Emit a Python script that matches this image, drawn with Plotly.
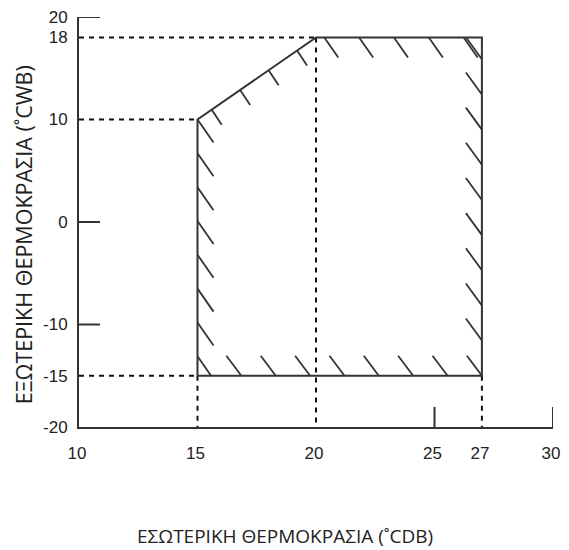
import numpy as np
import plotly.graph_objects as go

# operating envelope: indoor dry bulb (°CDB) vs outdoor wet bulb (°CWB)
indoor_db = [15, 15, 20, 27, 27, 15]
outdoor_wb = [-15, 10, 18, 18, -15, -15]

x_ticks = [10, 15, 20, 25, 27, 30]
y_ticks = [20, 18, 10, 0, -10, -15, -20]
y_tick_text = ["20", "18", "10", "0", "-10", "-15", "-20"]
x_marks = [25, 30]          # solid tick marks on the x axis
y_marks = [20, 0, -10]      # solid tick marks on the y axis

# corners that get a dashed guide to each axis
guide_to_y = [(15, 10), (20, 18), (15, -15)]
guide_to_x = [(15, -15), (20, 18), (27, -15)]

X_RANGE = [10, 30]
Y_RANGE = [-20, 20]

# page body adds an 8px margin, so keep the figure inside the window
W, H = 561, 542
M = dict(l=71, r=16, t=9, b=123)
SX = (W - M["l"] - M["r"]) / (X_RANGE[1] - X_RANGE[0])   # px per degree
SY = (H - M["t"] - M["b"]) / (Y_RANGE[1] - Y_RANGE[0])

LINE = "#333333"
TICK_FONT = dict(family="Liberation Sans, Arial, sans-serif", size=17, color="#222222")
TITLE_FONT = dict(family="Open Sans, sans-serif", color="#222222")


def hatch(x0, y0, px, py, at_end=False):
    """One short hatch stroke; vector given in screen px (py downwards)."""
    dx, dy = px / SX, -py / SY
    if at_end:
        return [x0 - dx, x0, None], [y0 - dy, y0, None]
    t = 1.0
    t = min(t, (y0 - outdoor_wb[0]) / -dy)
    t = min(t, (indoor_db[3] - x0) / dx)
    return [x0, x0 + dx * t, None], [y0, y0 + dy * t, None]


hx, hy = [], []
# left edge
for y in np.arange(outdoor_wb[1], outdoor_wb[0], -3.3):
    a, b = hatch(indoor_db[1], y, 16, 23)
    hx += a; hy += b
# sloped edge
for t in np.arange(0.12, 1, 0.24):
    x = indoor_db[1] + (indoor_db[2] - indoor_db[1]) * t
    y = outdoor_wb[1] + (outdoor_wb[2] - outdoor_wb[1]) * t
    a, b = hatch(x, y, 10, 15)
    hx += a; hy += b
# top edge
for x in np.arange(indoor_db[2] + 0.35, indoor_db[3], 1.47):
    a, b = hatch(x, outdoor_wb[2], 14, 20)
    hx += a; hy += b
# right edge
for y in np.arange(outdoor_wb[4] + 3.43, outdoor_wb[3] - 2, 3.43):
    a, b = hatch(indoor_db[4], y, 16, 22, at_end=True)
    hx += a; hy += b
# bottom edge
for x in np.arange(indoor_db[4], indoor_db[0] + 1.5, -1.45):
    a, b = hatch(x, outdoor_wb[4], 15, 20, at_end=True)
    hx += a; hy += b

fig = go.Figure()

# dashed guides
gx, gy = [], []
for x, y in guide_to_y:
    gx += [X_RANGE[0], x, None]; gy += [y, y, None]
for x, y in guide_to_x:
    gx += [x, x, None]; gy += [y, Y_RANGE[0], None]
fig.add_trace(go.Scatter(x=gx, y=gy, mode="lines", hoverinfo="skip",
                         line=dict(color="#111111", width=2, dash="5px,5px")))

fig.add_trace(go.Scatter(x=hx, y=hy, mode="lines", hoverinfo="skip",
                         line=dict(color=LINE, width=1.8)))
fig.add_trace(go.Scatter(x=indoor_db, y=outdoor_wb, mode="lines",
                         line=dict(color=LINE, width=2)))

# solid tick marks
for x in x_marks:
    fig.add_shape(type="line", xref="x", yref="y", ysizemode="pixel",
                  yanchor=Y_RANGE[0], x0=x, x1=x, y0=0, y1=20,
                  line=dict(color=LINE, width=2))
for y in y_marks:
    fig.add_shape(type="line", xref="x", yref="y", xsizemode="pixel",
                  xanchor=X_RANGE[0], x0=0, x1=21, y0=y, y1=y,
                  line=dict(color=LINE, width=2))

fig.add_annotation(text="ΕΣΩΤΕΡΙΚΗ ΘΕΡΜΟΚΡΑΣΙΑ (˚CDB)", xref="paper", yref="paper",
                   x=0.435, y=-0.266, showarrow=False, xanchor="center", yanchor="middle",
                   font=dict(size=19, **TITLE_FONT))
fig.add_annotation(text="ΕΞΩΤΕΡΙΚΗ ΘΕΡΜΟΚΡΑΣΙΑ (˚CWB)", xref="paper", yref="paper",
                   x=-0.118, y=0.468, showarrow=False, textangle=-90,
                   xanchor="center", yanchor="middle",
                   font=dict(size=21.5, **TITLE_FONT))

fig.update_xaxes(range=X_RANGE, tickvals=x_ticks, ticks="", showgrid=False,
                 zeroline=False, showline=True, linecolor=LINE, linewidth=2,
                 tickfont=TICK_FONT, ticklabelstandoff=10, ticklabelshift=-2,
                 ticklabeloverflow="allow", automargin=False)
fig.update_yaxes(range=Y_RANGE, tickvals=y_ticks, ticktext=y_tick_text, ticks="",
                 showgrid=False, zeroline=False, showline=True, linecolor=LINE,
                 linewidth=2, tickfont=TICK_FONT, ticklabelstandoff=6,
                 ticklabeloverflow="allow", automargin=False)
fig.update_layout(width=W, height=H, margin=M, showlegend=False,
                  plot_bgcolor="white", paper_bgcolor="white")

fig.write_html("out.html")
